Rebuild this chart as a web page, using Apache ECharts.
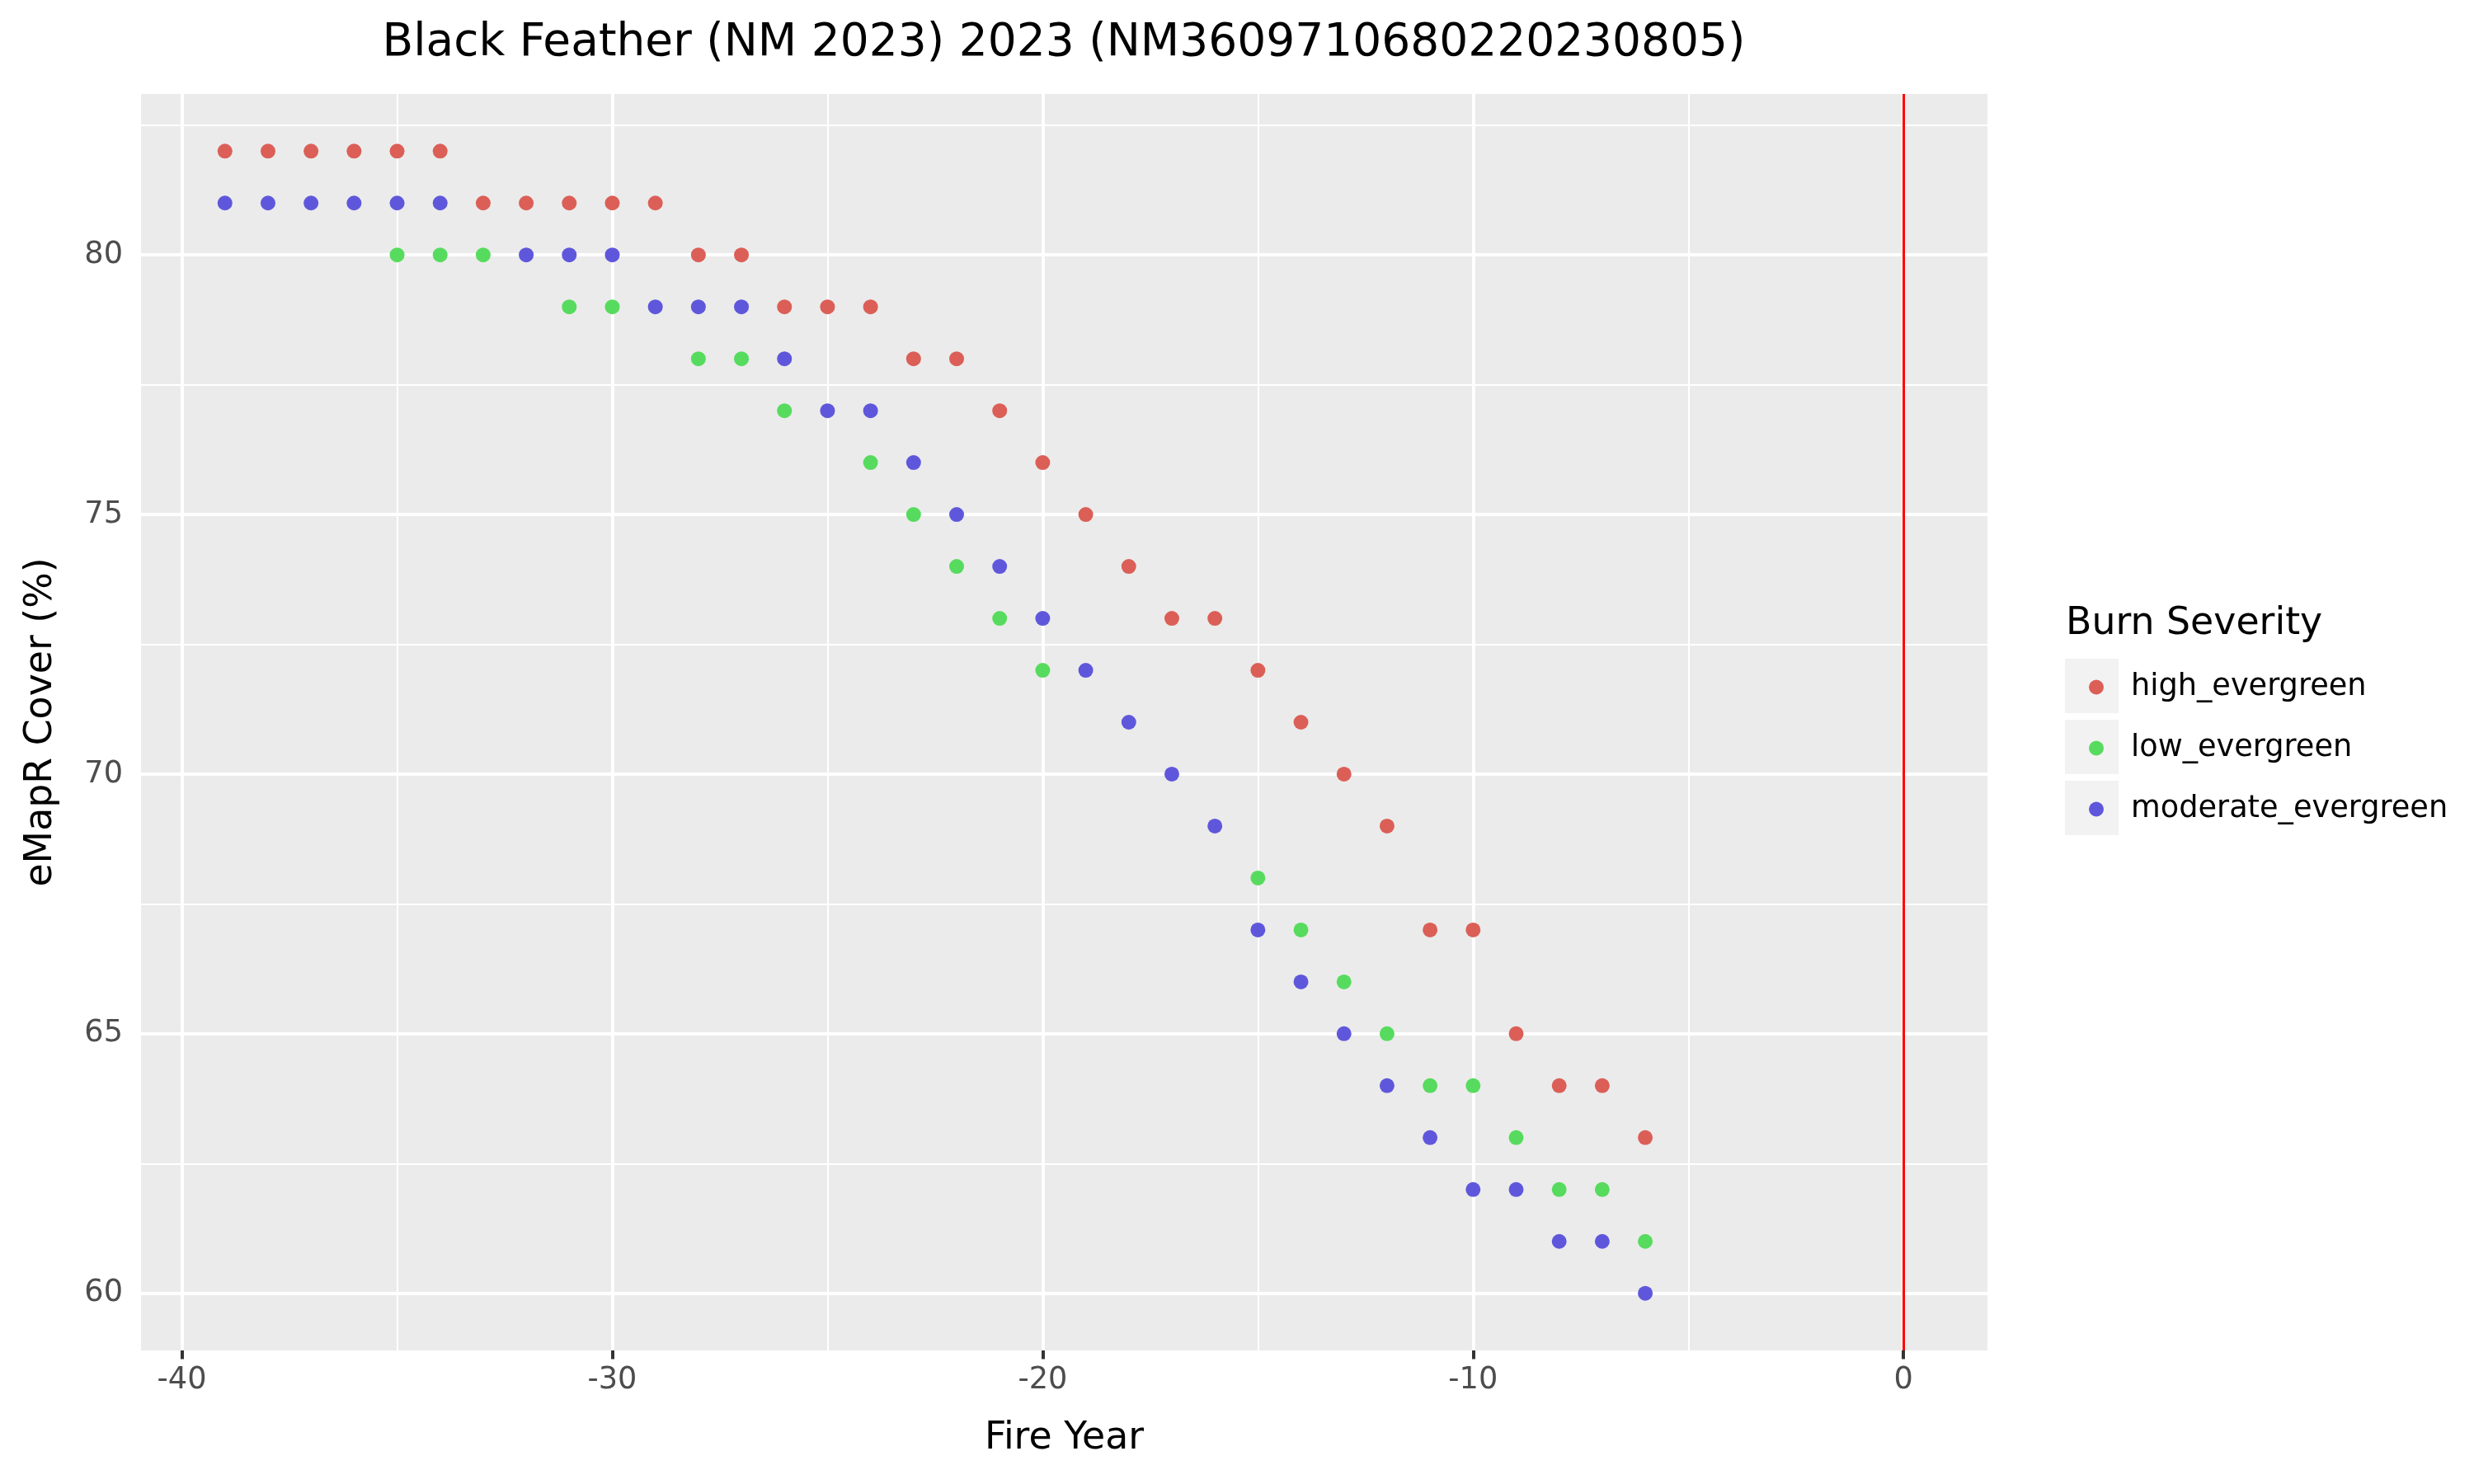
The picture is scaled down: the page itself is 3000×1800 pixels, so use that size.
<!DOCTYPE html>
<html>
<head>
<meta charset="utf-8">
<script src="https://cdn.jsdelivr.net/npm/echarts@6/dist/echarts.min.js"></script>
<style>
  html, body { margin: 0; padding: 0; background: #fff; }
  #chart { width: 3000px; height: 1800px; }
</style>
</head>
<body>
<div id="chart"></div>
<script>
// fire years relative to the fire (x)
const years = [-39, -38, -37, -36, -35, -34, -33, -32, -31, -30, -29, -28, -27, -26, -25, -24, -23,
  -22, -21, -20, -19, -18, -17, -16, -15, -14, -13, -12, -11, -10, -9, -8, -7, -6]

// eMapR cover (%) per burn severity, null = not visible in the picture
const highCover = [82, 82, 82, 82, 82, 82, 81, 81, 81, 81, 81, 80, 80, 79, 79, 79, 78,
  78, 77, 76, 75, 74, 73, 73, 72, 71, 70, 69, 67, 67, 65, 64, 64, 63]
const lowCover = [null, null, null, null, 80, 80, 80, null, 79, 79, null, 78, 78, 77, null, 76, 75,
  74, 73, 72, null, null, null, null, 68, 67, 66, 65, 64, 64, 63, 62, 62, 61]
const moderateCover = [81, 81, 81, 81, 81, 81, null, 80, 80, 80, 79, 79, 79, 78, 77, 77, 76,
  75, 74, 73, 72, 71, 70, 69, 67, 66, 65, 64, 63, 62, 62, 61, 61, 60]

const seriesNames = ['high_evergreen', 'low_evergreen', 'moderate_evergreen']
const seriesColors = ['#DB5F57', '#57DB5E', '#5F57DB']

const xTicks = [-40, -30, -20, -10, 0]
const xMinor = [-35, -25, -15, -5]
const yTicks = [60, 65, 70, 75, 80]
const yMinor = [62.5, 67.5, 72.5, 77.5, 82.5]
const fireYear = 0

const FONT = 'DejaVu Sans'

const toPoints = (vals) => years.map((y, i) => [y, vals[i]]).filter(p => p[1] !== null)

const chart = echarts.init(document.getElementById('chart'), null, { renderer: 'canvas' })

const gridLine = (key, v, w) => ({ [key]: v, lineStyle: { color: '#FFFFFF', width: w, type: 'solid' } })

chart.setOption({
  animation: false,
  backgroundColor: '#FFFFFF',
  grid: {
    left: 171, top: 114, width: 2239, height: 1524,
    show: true, backgroundColor: '#EBEBEB', borderWidth: 0,
  },
  xAxis: {
    type: 'value',
    min: -40.95,
    max: 1.95,
    name: 'Fire Year',
    nameLocation: 'middle',
    nameGap: 84,
    nameTextStyle: { fontFamily: FONT, fontSize: 45.8, color: '#000' },
    axisLine: { show: false },
    splitLine: { show: false },
    axisTick: { show: true, length: 10.5, customValues: xTicks, lineStyle: { color: '#333333', width: 4 } },
    axisLabel: { customValues: xTicks, margin: 18, fontFamily: FONT, fontSize: 36.7, color: '#4D4D4D' },
  },
  yAxis: {
    type: 'value',
    min: 58.9,
    max: 83.1,
    name: 'eMapR Cover (%)',
    nameLocation: 'middle',
    nameGap: 98,
    nameTextStyle: { fontFamily: FONT, fontSize: 45.8, color: '#000' },
    axisLine: { show: false },
    splitLine: { show: false },
    axisTick: { show: true, length: 10.5, customValues: yTicks, lineStyle: { color: '#333333', width: 4 } },
    axisLabel: { customValues: yTicks, margin: 22, fontFamily: FONT, fontSize: 36.7, color: '#4D4D4D' },
  },
  legend: {
    orient: 'vertical',
    left: 2528,
    top: 810,
    itemWidth: 18,
    itemHeight: 18,
    itemGap: 37,
    icon: 'circle',
    data: seriesNames,
    textStyle: { fontFamily: FONT, fontSize: 36.7, lineHeight: 37, color: '#000', padding: [0, 0, 0, 28] },
    selectedMode: false,
  },
  graphic: [
    { type: 'text', x: 1290, y: 53, style: { text: 'Black Feather (NM 2023) 2023 (NM3609710680220230805)', font: '55px "DejaVu Sans"', fill: '#000', textAlign: 'center', textVerticalAlign: 'middle' } },
    { type: 'text', x: 2505, y: 757, style: { text: 'Burn Severity', font: '45.8px "DejaVu Sans"', fill: '#000', textAlign: 'left', textVerticalAlign: 'middle' } },
    { type: 'rect', shape: { x: 2504, y: 799, width: 65, height: 66 }, style: { fill: '#F2F2F2' }, z: -1 },
    { type: 'rect', shape: { x: 2504, y: 873, width: 65, height: 66 }, style: { fill: '#F2F2F2' }, z: -1 },
    { type: 'rect', shape: { x: 2504, y: 947, width: 65, height: 66 }, style: { fill: '#F2F2F2' }, z: -1 },
  ],
  series: [
    {
      // panel grid lines
      type: 'scatter',
      data: [],
      z: 1,
      silent: true,
      markLine: {
        z: 1,
        silent: true,
        symbol: ['none', 'none'],
        label: { show: false },
        animation: false,
        data: [
          ...xMinor.map(v => gridLine('xAxis', v, 2)),
          ...yMinor.map(v => gridLine('yAxis', v, 2)),
          ...xTicks.map(v => gridLine('xAxis', v, 4)),
          ...yTicks.map(v => gridLine('yAxis', v, 4)),
        ],
      },
    },
    ...seriesNames.map((name, i) => ({
      name,
      type: 'scatter',
      data: toPoints([highCover, lowCover, moderateCover][i]),
      symbolSize: 18,
      itemStyle: { color: seriesColors[i], opacity: 1 },
      z: 3,
      silent: true,
    })),
    {
      // fire year marker
      type: 'scatter',
      data: [],
      z: 4,
      silent: true,
      markLine: {
        z: 4,
        silent: true,
        symbol: ['none', 'none'],
        label: { show: false },
        data: [{ xAxis: fireYear }],
        lineStyle: { color: '#FF0000', width: 3, type: 'solid' },
      },
    },
  ],
})
</script>
</body>
</html>
